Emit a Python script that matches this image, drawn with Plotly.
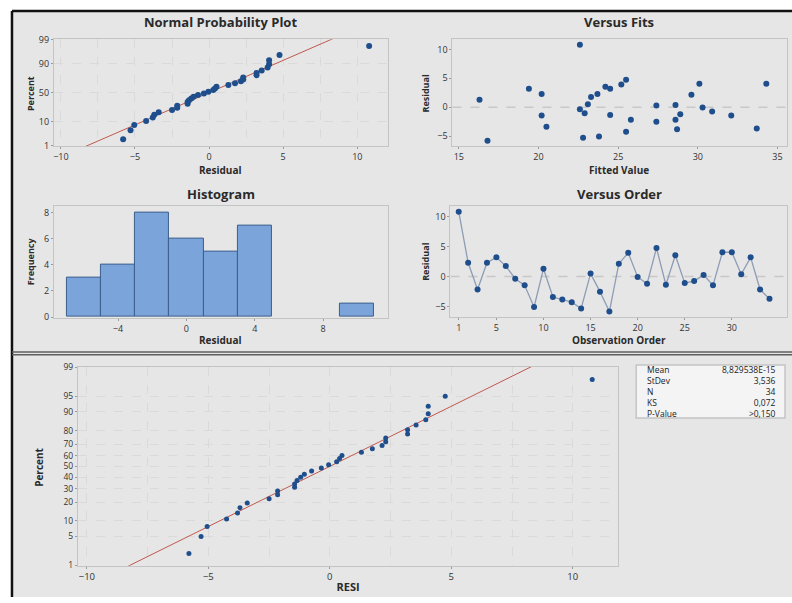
import plotly.graph_objects as go
from statistics import NormalDist

W, H = 792, 603

# ---------------- data ----------------
residuals = [10.8, 2.3, -2.15, 2.3, 3.2, 1.75, -0.35, -1.45, -5.05, 1.3,
             -3.4, -3.8, -4.25, -5.3, 0.5, -2.5, -5.8, 2.15, 3.95, -0.05,
             -1.2, 4.75, -1.35, 3.55, -1.05, -0.75, 0.28, -1.45, 4.05, 4.05,
             0.4, 3.2, -2.15, -3.7]
fitted = [22.6, 20.2, 25.8, 23.7, 19.4, 23.3, 22.6, 20.2, 23.8, 16.3,
          20.5, 28.7, 25.5, 22.8, 23.1, 27.4, 16.8, 29.6, 25.2, 30.3,
          28.9, 25.5, 24.5, 24.2, 22.9, 30.9, 27.4, 32.1, 30.1, 34.3,
          28.6, 24.5, 28.6, 33.7]
order = list(range(1, len(residuals) + 1))

top_prob_ticks = [1, 10, 50, 90, 99]
bottom_prob_ticks = [1, 5, 10, 20, 30, 40, 50, 60, 70, 80, 90, 95, 99]

stat_labels = ["Mean", "StDev", "N", "KS", "P-Value"]
stat_values = ["8,829538E-15", "3,536", "34", "0,072", ">0,150"]
MEAN_VAL = 8.829538e-15
STDEV_VAL = 3.536

# ---------------- derived ----------------
nd = NormalDist()
n = len(residuals)
sorted_res = sorted(residuals)
plot_pos = [nd.inv_cdf((i - 0.3) / (n + 0.4)) for i in range(1, n + 1)]
z_lo, z_hi = nd.inv_cdf(0.01), nd.inv_cdf(0.99)
line_z = [z_lo - 0.05, z_hi + 0.05]
line_x = [MEAN_VAL + STDEV_VAL * z for z in line_z]

FONT = "Open Sans"
DOT = "#1F4E8C"
TXT = "#333333"


def xd(a, b):
    return [a / W, b / W]


def yd(top, bottom):
    return [1 - bottom / H, 1 - top / H]


def px(x):
    return x / W


def py(y):
    return 1 - y / H


fig = go.Figure()

# Normal probability plot (top-left)
fig.add_trace(go.Scatter(x=line_x, y=line_z, mode="lines",
                         line=dict(color="#C0584D", width=1),
                         xaxis="x", yaxis="y", showlegend=False))
fig.add_trace(go.Scatter(x=sorted_res, y=plot_pos, mode="markers",
                         marker=dict(color=DOT, size=6),
                         xaxis="x", yaxis="y", showlegend=False))
# Versus fits
fig.add_trace(go.Scatter(x=fitted, y=residuals, mode="markers",
                         marker=dict(color=DOT, size=6),
                         xaxis="x2", yaxis="y2", showlegend=False))
# Histogram
fig.add_trace(go.Histogram(x=residuals, xbins=dict(start=-7, end=11, size=2),
                           marker=dict(color="#7BA4DB",
                                       line=dict(color="#3D5E8C", width=1)),
                           xaxis="x3", yaxis="y3", showlegend=False))
# Versus order
fig.add_trace(go.Scatter(x=order, y=residuals, mode="lines+markers",
                         line=dict(color="#8C9DB5", width=1.3),
                         marker=dict(color=DOT, size=6),
                         xaxis="x4", yaxis="y4", showlegend=False))
# Bottom probability plot
fig.add_trace(go.Scatter(x=line_x, y=line_z, mode="lines",
                         line=dict(color="#C0584D", width=1),
                         xaxis="x5", yaxis="y5", showlegend=False))
fig.add_trace(go.Scatter(x=sorted_res, y=plot_pos, mode="markers",
                         marker=dict(color=DOT, size=5),
                         xaxis="x5", yaxis="y5", showlegend=False))

tickfont = dict(family=FONT, size=9, color=TXT)
common = dict(showline=True, mirror=True, linecolor="#C4C4C4", linewidth=1,
              ticks="outside", ticklen=2, tickcolor="#9A9A9A",
              tickfont=tickfont, zeroline=False, showgrid=False, fixedrange=True)
grid = dict(showgrid=True, gridcolor="#DADADA", griddash="dash", gridwidth=1)
minor_grid = dict(dtick=2.5, tick0=0, showgrid=True, gridcolor="#DADADA",
                  griddash="dash", ticks="")

z_top_ticks = [nd.inv_cdf(p / 100) for p in top_prob_ticks]
z_bot_ticks = [nd.inv_cdf(p / 100) for p in bottom_prob_ticks]
yr = [z_lo - 0.01, z_hi + 0.01]
xtick5 = dict(family=FONT, size=9.5, color=TXT)
ytick5 = dict(family=FONT, size=8.5, color=TXT)

fig.update_layout(
    width=W, height=H, margin=dict(l=0, r=0, t=0, b=0),
    paper_bgcolor="white", plot_bgcolor="white",
    font=dict(family=FONT, color=TXT),
    xaxis=dict(domain=xd(53, 387), anchor="y", range=[-10.47, 12.04],
               tickvals=[-10, -5, 0, 5, 10], minor=minor_grid, **{**common, **grid}),
    yaxis=dict(domain=yd(33, 142), anchor="x", range=yr,
               tickvals=z_top_ticks, ticktext=[str(t) for t in top_prob_ticks],
               **{**common, **grid}),
    xaxis2=dict(domain=xd(452, 787), anchor="y2", range=[14.6, 35.6],
                tickvals=[15, 20, 25, 30, 35], **common),
    yaxis2=dict(domain=yd(33, 142), anchor="x2", range=[-6.7, 11.75],
                tickvals=[-5, 0, 5, 10], **common),
    xaxis3=dict(domain=xd(53, 387), anchor="y3", range=[-7.75, 11.77],
                tickvals=[-4, 0, 4, 8], **common),
    yaxis3=dict(domain=yd(203, 318), anchor="x3", range=[-0.08, 8.52],
                tickvals=[0, 2, 4, 6, 8], **common),
    xaxis4=dict(domain=xd(450, 787), anchor="y4", range=[0.12, 35.86],
                tickvals=[1, 5, 10, 15, 20, 25, 30], **common),
    yaxis4=dict(domain=yd(203, 317), anchor="x4", range=[-6.74, 11.8],
                tickvals=[-5, 0, 5, 10], **common),
    xaxis5=dict(domain=xd(77, 618), anchor="y5", range=[-10.37, 11.87],
                tickvals=[-10, -5, 0, 5, 10], minor=minor_grid,
                title=dict(text="<b>RESI</b>", standoff=1,
                           font=dict(family=FONT, size=11, color="#2A2A2A")),
                **{**common, **grid, "tickfont": xtick5}),
    yaxis5=dict(domain=yd(368, 571), anchor="x5", range=yr,
                tickvals=z_bot_ticks, ticktext=[str(t) for t in bottom_prob_ticks],
                **{**common, **grid, "tickfont": ytick5}),
    bargap=0,
)

shapes = [
    # grey panel background with black frame on top/left
    dict(type="rect", xref="paper", yref="paper", x0=px(11), x1=1, y0=0, y1=py(4),
         fillcolor="#E6E6E6", line=dict(width=0), layer="below"),
    dict(type="line", xref="paper", yref="paper", x0=px(11), x1=1, y0=py(4), y1=py(4),
         line=dict(color="#111111", width=2.5)),
    dict(type="line", xref="paper", yref="paper", x0=px(11), x1=px(11), y0=0, y1=py(4),
         line=dict(color="#111111", width=2.5)),
    # double separator between panels
    dict(type="line", xref="paper", yref="paper", x0=px(11), x1=1, y0=py(352.5), y1=py(352.5),
         line=dict(color="#5E5E5E", width=1.5)),
    dict(type="line", xref="paper", yref="paper", x0=px(11), x1=1, y0=py(355.5), y1=py(355.5),
         line=dict(color="#5E5E5E", width=1.5)),
    # zero reference lines
    dict(type="line", xref="x2 domain", yref="y2", x0=0, x1=1, y0=0, y1=0,
         line=dict(color="#C8C8C8", width=1.5, dash="dash"), layer="below"),
    dict(type="line", xref="x4 domain", yref="y4", x0=0, x1=1, y0=0, y1=0,
         line=dict(color="#C8C8C8", width=1.5, dash="dash"), layer="below"),
    # stats box
    dict(type="rect", xref="paper", yref="paper", x0=px(636), x1=px(785),
         y0=py(420), y1=py(366), fillcolor="#F4F4F4",
         line=dict(color="#C4C4C4", width=1.5)),
]
fig.update_layout(shapes=shapes)

ann = []


def text(x, y, s, size=10, bold=True, angle=0, xanchor="center", color="#2A2A2A",
         align="center", yanchor="middle"):
    ann.append(dict(x=px(x), y=py(y), xref="paper", yref="paper", text=s,
                    showarrow=False, textangle=angle, xanchor=xanchor, yanchor=yanchor,
                    align=align, borderpad=0,
                    font=dict(family=FONT, size=size, color=color,
                              weight="bold" if bold else "normal")))


# panel titles
text(220, 15, "Normal Probability Plot", size=13)
text(619, 15, "Versus Fits", size=13)
text(220, 191, "Histogram", size=13)
text(619, 191, "Versus Order", size=13)
# axis titles
text(220, 166.5, "Residual", size=10)
text(619, 166.5, "Fitted Value", size=10)
text(220, 340.5, "Residual", size=10)
text(619, 340.5, "Observation Order", size=10)
text(29, 88, "Percent", size=9, angle=-90)
text(425, 88, "Residual", size=9, angle=-90)
text(29, 260, "Frequency", size=9, angle=-90)
text(425, 260, "Residual", size=9, angle=-90)
text(38, 470, "Percent", size=10, angle=-90)
# stats box columns
text(646, 393, "<br>".join(stat_labels), size=8.5, bold=False, xanchor="left",
     color="#1A1A1A", align="left")
text(777, 393, "<br>".join(stat_values), size=8.5, bold=False, xanchor="right",
     color="#1A1A1A", align="right")

fig.update_layout(annotations=ann)

fig.write_html(
    "out.html",
    config={"displayModeBar": False},
    post_script="document.documentElement.style.margin='0';"
                "document.body.style.margin='0';"
                "document.body.style.overflow='hidden';",
)
